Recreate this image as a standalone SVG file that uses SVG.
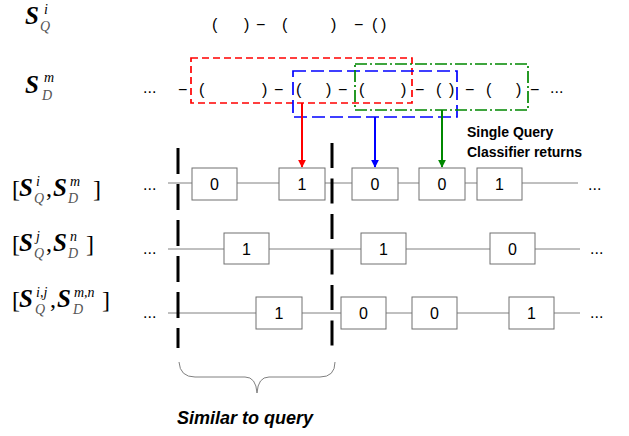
<svg xmlns="http://www.w3.org/2000/svg" width="629" height="436" viewBox="0 0 629 436">
<style>
.m{font-family:"Liberation Serif","DejaVu Serif",serif;font-style:italic;fill:#000}
.big{font-size:25px;font-weight:bold}
.sup{font-size:14px}
.sub{font-size:14px;fill:#555}
.br{font-family:"Liberation Serif","DejaVu Serif",serif;font-size:24px;fill:#000}
.p{font-family:"Liberation Sans",Arial,sans-serif;font-size:16px;fill:#000}
.box rect{fill:#fff;stroke:#707070;stroke-width:1}
.box text{font-family:"Liberation Sans",Arial,sans-serif;font-size:16px;fill:#000;text-anchor:middle}
.row{stroke:#808080;stroke-width:1;fill:none}
.vd{stroke:#000;stroke-width:3;fill:none}
.lbl{font-family:"Liberation Sans",Arial,sans-serif;font-weight:bold;fill:#000}
</style>
<defs>
<marker id="arR" viewBox="0 0 10 10" refX="9" refY="5" markerWidth="4" markerHeight="4" orient="auto"><path d="M0,0 L10,5 L0,10 z" fill="#f00"/></marker>
<marker id="arB" viewBox="0 0 10 10" refX="9" refY="5" markerWidth="4" markerHeight="4" orient="auto"><path d="M0,0 L10,5 L0,10 z" fill="#00f"/></marker>
<marker id="arG" viewBox="0 0 10 10" refX="9" refY="5" markerWidth="4" markerHeight="4" orient="auto"><path d="M0,0 L10,5 L0,10 z" fill="#080"/></marker>
</defs>
<rect width="629" height="436" fill="#fff"/>

<g id="label-SQi">
<text class="m big" x="25" y="24">S</text><text class="m sup" x="44" y="14">i</text><text class="m sub" x="40" y="31">Q</text>
</g>
<g id="label-SDm">
<text class="m big" x="25" y="93">S</text><text class="m sup" x="44" y="82">m</text><text class="m sub" x="42" y="100">D</text>
</g>
<g id="label-row1">
<text class="br" x="12" y="197">[</text><text class="m big" x="19" y="196">S</text><text class="m sup" x="36" y="186">i</text><text class="m sub" x="34" y="203">Q</text><text class="br" x="46" y="196">,</text><text class="m big" x="53" y="196">S</text><text class="m sup" x="70" y="186">m</text><text class="m sub" x="68" y="203">D</text><text class="br" x="93" y="197">]</text>
</g>
<g id="label-row2">
<text class="br" x="12" y="252">[</text><text class="m big" x="19" y="251">S</text><text class="m sup" x="36" y="241">j</text><text class="m sub" x="34" y="258">Q</text><text class="br" x="46" y="251">,</text><text class="m big" x="53" y="251">S</text><text class="m sup" x="70" y="241">n</text><text class="m sub" x="68" y="258">D</text><text class="br" x="86" y="252">]</text>
</g>
<g id="label-row3">
<text class="br" x="12" y="308">[</text><text class="m big" x="19" y="307">S</text><text class="m sup" x="36" y="297">i,j</text><text class="m sub" x="35" y="314">Q</text><text class="br" x="50" y="307">,</text><text class="m big" x="57" y="307">S</text><text class="m sup" x="74" y="297">m,n</text><text class="m sub" x="73" y="314">D</text><text class="br" x="102" y="308">]</text>
</g>

<g id="query-seq">
<text class="p" x="212 244 256 282 331 354 372 381" y="30">()−()−()</text>
</g>
<g id="data-seq">
<text class="p" x="143" y="93">...</text>
<text class="p" x="178 199 262 274 296 326 338 359 401 415 436 449 465 486 516 530" y="95">−()−()−()−()−()−</text>
<text class="p" x="550" y="93">...</text>
</g>

<g id="windows">
<rect x="191" y="58" width="221" height="45" fill="none" stroke="#f00" stroke-width="1.7" stroke-dasharray="7 4"/>
<rect x="293" y="71" width="164" height="46" fill="none" stroke="#00f" stroke-width="1.7" stroke-dasharray="13 5"/>
<rect x="355" y="64" width="173" height="46" fill="none" stroke="#080" stroke-width="1.7" stroke-dasharray="12 3 2 3"/>
</g>

<g id="connectors">
<line class="row" x1="168" y1="183" x2="578" y2="183"/>
<line class="row" x1="168" y1="249" x2="580" y2="249"/>
<line class="row" x1="168" y1="313" x2="580" y2="313"/>
<line x1="302" y1="103" x2="302" y2="167" stroke="#f00" stroke-width="2" marker-end="url(#arR)"/>
<line x1="375" y1="117" x2="375" y2="167" stroke="#00f" stroke-width="2" marker-end="url(#arB)"/>
<line x1="442" y1="110" x2="442" y2="167" stroke="#080" stroke-width="2" marker-end="url(#arG)"/>
<line class="vd" x1="178" y1="148" x2="178" y2="348" stroke-dasharray="26 10"/>
<line class="vd" x1="332" y1="143" x2="332" y2="346" stroke-dasharray="25 10.5"/>
<path d="M179,362 Q180,377 195,377 L245,377 Q256,377 257,393 Q258,377 269,377 L320,377 Q335,377 335,362" fill="none" stroke="#808080" stroke-width="1"/>
</g>

<g id="dots">
<text class="p" x="143" y="190">...</text>
<text class="p" x="143" y="254">...</text>
<text class="p" x="143" y="318">...</text>
<text class="p" x="588" y="190">...</text>
<text class="p" x="590" y="254">...</text>
<text class="p" x="590" y="318">...</text>
</g>

<g id="r1b1" class="box"><rect x="192" y="168" width="45" height="32"/><text x="214.5" y="190">0</text></g>
<g id="r1b2" class="box"><rect x="279" y="168" width="46" height="32"/><text x="302" y="190">1</text></g>
<g id="r1b3" class="box"><rect x="352" y="168" width="46" height="32"/><text x="375" y="190">0</text></g>
<g id="r1b4" class="box"><rect x="419" y="168" width="46" height="32"/><text x="442" y="190">0</text></g>
<g id="r1b5" class="box"><rect x="477" y="168" width="45" height="32"/><text x="499.5" y="190">1</text></g>

<g id="r2b1" class="box"><rect x="224" y="233" width="45" height="31"/><text x="246.5" y="255">1</text></g>
<g id="r2b2" class="box"><rect x="361" y="233" width="45" height="31"/><text x="383.5" y="255">1</text></g>
<g id="r2b3" class="box"><rect x="490" y="233" width="45" height="31"/><text x="512.5" y="255">0</text></g>

<g id="r3b1" class="box"><rect x="256" y="297" width="46" height="32"/><text x="279" y="319">1</text></g>
<g id="r3b2" class="box"><rect x="341" y="297" width="45" height="32"/><text x="363.5" y="319">0</text></g>
<g id="r3b3" class="box"><rect x="412" y="297" width="45" height="32"/><text x="434.5" y="319">0</text></g>
<g id="r3b4" class="box"><rect x="509" y="297" width="45" height="32"/><text x="531.5" y="319">1</text></g>

<g id="note">
<text class="lbl" x="467" y="137" font-size="14">Single Query</text>
<text class="lbl" x="467" y="157" font-size="14">Classifier returns</text>
</g>
<g id="similar">
<text class="lbl" x="177" y="424" font-size="18" font-style="italic">Similar to query</text>
</g>
</svg>
